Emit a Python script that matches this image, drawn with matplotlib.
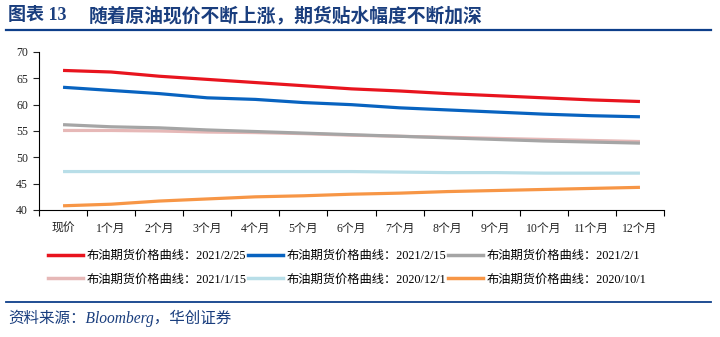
import matplotlib
matplotlib.use("Agg")
import matplotlib.pyplot as plt
from matplotlib.lines import Line2D

categories = ["现价", "1个月", "2个月", "3个月", "4个月", "5个月", "6个月",
              "7个月", "8个月", "9个月", "10个月", "11个月", "12个月"]

s_20210225 = [66.5, 66.2, 65.4, 64.8, 64.2, 63.6, 63.0, 62.6, 62.1, 61.7, 61.3, 60.9, 60.6]
s_20210215 = [63.3, 62.7, 62.1, 61.3, 61.0, 60.4, 60.0, 59.4, 59.0, 58.6, 58.2, 57.9, 57.7]
s_20210201 = [56.2, 55.8, 55.6, 55.2, 54.9, 54.6, 54.3, 54.0, 53.7, 53.4, 53.1, 52.9, 52.7]
s_20210115 = [55.1, 55.1, 55.0, 54.8, 54.7, 54.5, 54.2, 54.0, 53.8, 53.6, 53.4, 53.2, 53.0]
s_20201201 = [47.3, 47.3, 47.3, 47.3, 47.3, 47.3, 47.3, 47.2, 47.1, 47.1, 47.0, 47.0, 47.0]
s_20201001 = [40.8, 41.1, 41.7, 42.1, 42.5, 42.7, 43.0, 43.2, 43.5, 43.7, 43.9, 44.1, 44.3]

series_labels = ["布油期货价格曲线：2021/2/25", "布油期货价格曲线：2021/2/15",
                 "布油期货价格曲线：2021/2/1", "布油期货价格曲线：2021/1/15",
                 "布油期货价格曲线：2020/12/1", "布油期货价格曲线：2020/10/1"]
series_values = [s_20210225, s_20210215, s_20210201, s_20210115, s_20201201, s_20201001]
colors = ["#E8141E", "#0863C0", "#A5A5A5", "#E6B8B7", "#B8DEE8", "#F79646"]

title_prefix = "图表 13"
title_text = "随着原油现价不断上涨，期货贴水幅度不断加深"
source_text = "资料来源：Bloomberg，华创证券"

plt.rcParams['font.family'] = ['Liberation Serif', 'Noto Sans CJK SC']
navy = "#1A3E7E"

fig = plt.figure(figsize=(7.2, 3.37), dpi=100)
ax = fig.add_axes([39/720, 1-210/337, (664-39)/720, (210-52)/337])

x = list(range(len(categories)))
draw_order = [5, 4, 3, 2, 1, 0]
for i in draw_order:
    ax.plot(x, series_values[i], color=colors[i], lw=2.3, solid_capstyle='butt')

ax.set_xlim(-0.5, len(categories) - 0.5)
ax.set_ylim(40, 70)
ax.set_yticks(range(40, 71, 5))
ax.set_xticks(x)
ax.set_xticklabels(categories)
ax.set_xticks([i - 0.5 for i in range(len(categories) + 1)], minor=True)
ax.tick_params(axis='x', which='major', length=0, pad=9, labelsize=8.5, colors='#222222')
ax.tick_params(axis='x', which='minor', length=4, direction='out', width=0.8)
ax.tick_params(axis='y', length=4, direction='out', width=0.8, labelsize=8.5, colors='#222222', pad=4)
for sp in ['top', 'right']:
    ax.spines[sp].set_visible(False)
for sp in ['left', 'bottom']:
    ax.spines[sp].set_linewidth(0.8)
    ax.spines[sp].set_color('black')

# legend, row-major order across 3 columns
order = [0, 3, 1, 4, 2, 5]
handles = [Line2D([0], [0], color=colors[i], lw=2.5) for i in order]
labels = [series_labels[i] for i in order]
fig.legend(handles, labels, ncol=3, loc='upper left',
           bbox_to_anchor=(48/720, 1-250/337), frameon=False,
           fontsize=8.8, handlelength=2.85, handletextpad=0.3,
           columnspacing=0.12, labelspacing=0.95, borderaxespad=0, borderpad=0)

# title
fig.text(8/720, 1-16/337, title_prefix, fontsize=13, fontweight='bold', color=navy,
         va='center', ha='left', family=['Liberation Serif', 'Noto Sans CJK SC'])
fig.text(89/720, 1-16/337, title_text, fontsize=13.5, fontweight='bold', color=navy,
         va='center', ha='left', family=['Noto Sans CJK SC'])
fig.add_artist(Line2D([6/720, 711/720], [1-30/337, 1-30/337], color="#0E3F8A", lw=1.6))

# footer
fig.add_artist(Line2D([6/720, 711/720], [1-302/337, 1-302/337], color="#0E3F8A", lw=1.3))
fig.text(8/720, 1-318/337, source_text, fontsize=11.2, style='italic', color=navy,
         va='center', ha='left')

fig.savefig("out.png", dpi=100)
